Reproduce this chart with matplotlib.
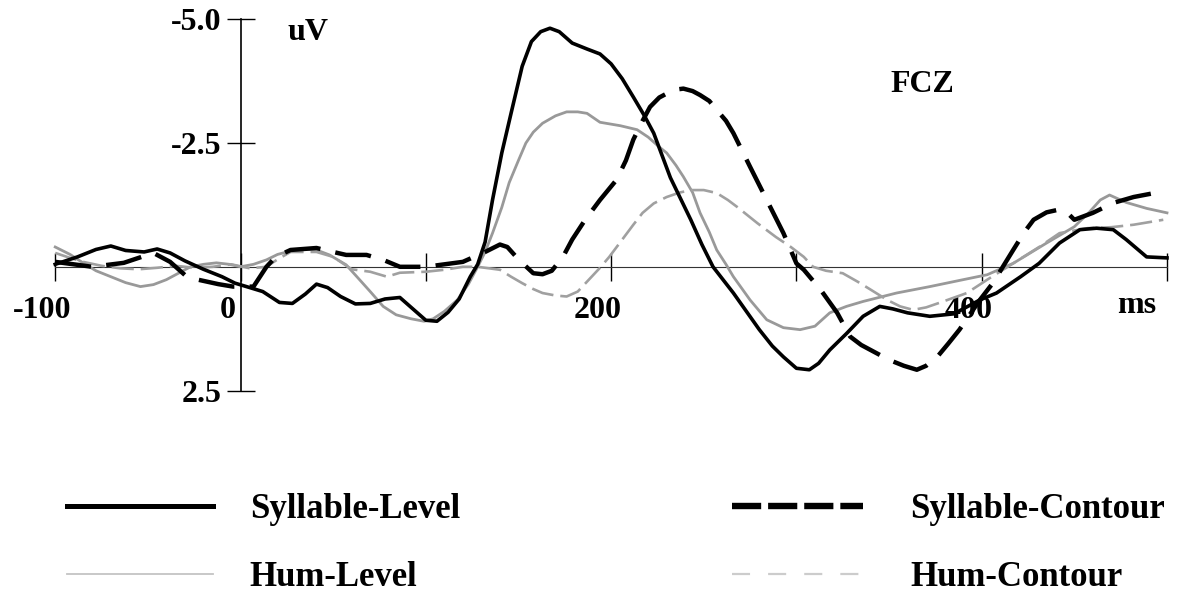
import matplotlib
matplotlib.use("Agg")
import matplotlib.pyplot as plt
from matplotlib.lines import Line2D
from matplotlib.transforms import ScaledTranslation

plt.rcParams["font.family"] = ["Liberation Serif", "DejaVu Serif"]
plt.rcParams["font.weight"] = "bold"
plt.rcParams["lines.scale_dashes"] = False

# ERP waveforms at FCZ (time in ms, amplitude in uV; negative plotted up)
syl_level_t = [-100, -88, -78, -70, -62, -52, -45, -38, -30, -20, -10, -3, 5, 12, 21, 28, 35, 41,
               47, 54, 62, 70, 78, 86, 93, 100, 106, 112, 118, 124, 128, 132, 136, 141, 146, 152,
               157, 162, 167, 172, 179, 187, 194, 200, 206, 212, 218, 223, 232, 243, 249, 255, 266,
               273, 280, 287, 293, 300, 307, 312, 318, 327, 336, 345, 352, 360, 372, 385, 399, 408,
               421, 431, 442, 453, 462, 471, 478, 489, 500]
syl_level_v = [-0.05, -0.2, -0.35, -0.42, -0.33, -0.3, -0.36, -0.28, -0.12, 0.05, 0.2, 0.33, 0.42,
               0.5, 0.72, 0.74, 0.55, 0.35, 0.42, 0.6, 0.75, 0.74, 0.65, 0.62, 0.85, 1.08, 1.1, 0.92,
               0.65, 0.2, -0.05, -0.5, -1.35, -2.3, -3.1, -4.05, -4.55, -4.75, -4.82, -4.75, -4.52,
               -4.4, -4.3, -4.1, -3.8, -3.43, -3.05, -2.7, -1.8, -0.95, -0.45, 0.0, 0.53, 0.9, 1.27,
               1.6, 1.82, 2.05, 2.08, 1.95, 1.68, 1.35, 1.0, 0.8, 0.85, 0.93, 1.0, 0.95, 0.67, 0.53,
               0.2, -0.07, -0.48, -0.75, -0.78, -0.75, -0.55, -0.2, -0.18]

syl_contour_t = [-100, -90, -80, -63, -47, -38, -29, -23, -12, -4, 7, 14, 19, 27, 41, 50, 57, 68,
                 77, 86, 100, 120, 132, 140, 144, 150, 158, 163, 168, 174, 179, 186, 194, 203, 208,
                 212, 217, 221, 226, 230, 235, 239, 244, 248, 253, 257, 262, 266, 275, 284, 293,
                 300, 304, 313, 322, 329, 335, 340, 350, 358, 365, 370, 376, 382, 388, 399, 406,
                 417, 423, 428, 435, 441, 446, 450, 460, 471, 482, 496]
syl_contour_v = [-0.1, -0.05, 0.0, -0.08, -0.28, -0.1, 0.2, 0.26, 0.35, 0.4, 0.4, 0.0, -0.2, -0.34,
                 -0.38, -0.3, -0.24, -0.24, -0.14, 0.0, 0.0, -0.1, -0.3, -0.45, -0.4, -0.15, 0.13,
                 0.15, 0.08, -0.2, -0.55, -0.95, -1.35, -1.76, -2.15, -2.57, -2.95, -3.23, -3.42,
                 -3.5, -3.58, -3.6, -3.55, -3.47, -3.35, -3.17, -2.95, -2.7, -2.02, -1.35, -0.68,
                 -0.07, 0.06, 0.46, 0.93, 1.41, 1.58, 1.68, 1.88, 2.0, 2.08, 2.0, 1.82, 1.55, 1.27,
                 0.67, 0.33, -0.34, -0.7, -0.95, -1.1, -1.15, -1.1, -0.95, -1.09, -1.29, -1.41, -1.51]

hum_level_t = [-100, -92, -85, -78, -70, -62, -54, -47, -40, -33, -27, -20, -13, -6, 0, 7, 14, 20,
               27, 34, 41, 48, 57, 64, 70, 77, 84, 92, 99, 104, 110, 117, 123, 128, 132, 136, 141,
               145, 150, 154, 158, 163, 170, 176, 182, 187, 194, 205, 214, 220, 226, 230, 235, 239,
               244, 248, 253, 257, 262, 266, 275, 284, 293, 302, 310, 318, 327, 336, 354, 372, 390,
               403, 417, 435, 450, 458, 464, 469, 478, 489, 500]
hum_level_v = [-0.4, -0.25, -0.08, 0.08, 0.2, 0.32, 0.4, 0.36, 0.26, 0.12, 0.0, -0.05, -0.08, -0.05,
               0.0, -0.05, -0.14, -0.25, -0.32, -0.36, -0.34, -0.24, -0.04, 0.25, 0.5, 0.8, 0.97,
               1.05, 1.1, 1.05, 0.9, 0.67, 0.35, 0.0, -0.3, -0.68, -1.2, -1.7, -2.15, -2.5, -2.72,
               -2.9, -3.05, -3.13, -3.13, -3.1, -2.92, -2.85, -2.77, -2.62, -2.42, -2.3, -2.05, -1.82,
               -1.5, -1.09, -0.7, -0.34, -0.05, 0.2, 0.67, 1.07, 1.23, 1.27, 1.2, 0.93, 0.8, 0.7,
               0.53, 0.4, 0.26, 0.16, -0.07, -0.48, -0.81, -1.1, -1.35, -1.45, -1.3, -1.18, -1.09]

hum_contour_t = [-100, -92, -85, -75, -65, -55, -45, -35, -25, -15, -5, 5, 14, 20, 27, 41, 50, 60,
                 70, 79, 86, 100, 110, 120, 128, 140, 146, 152, 158, 163, 170, 176, 182, 188, 194,
                 199, 207, 212, 217, 223, 230, 237, 243, 250, 257, 263, 268, 279, 289, 297, 304,
                 309, 316, 325, 333, 340, 349, 356, 363, 370, 377, 392, 403, 417, 431, 442, 457,
                 470, 482, 490, 498]
hum_contour_v = [-0.28, -0.18, -0.1, -0.02, 0.03, 0.05, 0.02, -0.02, 0.02, 0.0, -0.05, 0.03, 0.0,
                 -0.15, -0.3, -0.3, -0.2, 0.05, 0.1, 0.2, 0.12, 0.1, 0.06, 0.0, 0.0, 0.06, 0.2,
                 0.33, 0.45, 0.53, 0.58, 0.6, 0.5, 0.26, 0.02, -0.2, -0.6, -0.85, -1.09, -1.28,
                 -1.41, -1.5, -1.55, -1.55, -1.49, -1.35, -1.21, -0.88, -0.6, -0.4, -0.2, 0.0, 0.08,
                 0.13, 0.3, 0.46, 0.67, 0.8, 0.87, 0.82, 0.73, 0.53, 0.26, -0.07, -0.4, -0.68,
                 -0.78, -0.8, -0.85, -0.9, -0.95]

x_ticks = [-100, 0, 100, 200, 300, 400, 500]
x_tick_labels = ["-100", "0", "", "200", "", "400", ""]
y_ticks = [-5.0, -2.5, 2.5]
y_tick_labels = ["-5.0", "-2.5", "2.5"]
series_names = ["Syllable-Level", "Hum-Level", "Syllable-Contour", "Hum-Contour"]

fig = plt.figure(figsize=(11.82, 5.93), dpi=100)
ax = fig.add_axes([0, 0, 1, 1])
ax.set_xlim(-129.8, 508.1)
ax.set_ylim(6.59, -5.39)
ax.patch.set_alpha(0)

# Waveforms
ax.plot(hum_level_t, hum_level_v, color="#999999", lw=2.0, solid_joinstyle="round", zorder=3)
ax.plot(hum_contour_t, hum_contour_v, color="#a0a0a0", lw=1.9, dashes=(16, 5), zorder=3)
ax.plot(syl_contour_t, syl_contour_v, color="black", lw=3.2, dashes=(26, 11), zorder=4)
ax.plot(syl_level_t, syl_level_v, color="black", lw=2.6, solid_joinstyle="round", zorder=5)

# Axes crossing at the origin
for side in ("top", "right"):
    ax.spines[side].set_visible(False)
ax.spines["left"].set_position(("data", 0))
ax.spines["bottom"].set_position(("data", 0))
ax.spines["left"].set_bounds(-5, 2.5)
ax.spines["bottom"].set_bounds(-100, 500)
ax.spines["left"].set_linewidth(1.2)
ax.spines["bottom"].set_linewidth(0.8)
ax.spines["bottom"].set_color("#333333")

ax.set_xticks(x_ticks)
ax.set_xticklabels(x_tick_labels)
ax.set_yticks(y_ticks)
ax.set_yticklabels(y_tick_labels)
ax.tick_params(axis="x", direction="inout", length=20, width=1.0, pad=11, labelsize=23)
ax.tick_params(axis="y", direction="inout", length=20, width=1.0, pad=4, labelsize=23)
shift = ScaledTranslation(-13 / 100, 0, fig.dpi_scale_trans)
for lab in ax.get_xticklabels():
    lab.set_transform(lab.get_transform() + shift)
    lab.set_fontweight("bold")
for lab in ax.get_yticklabels():
    lab.set_fontweight("bold")

ax.text(25.6, -4.73, "uV", fontsize=23, fontweight="bold", ha="left", va="center")
ax.text(350.5, -3.68, "FCZ", fontsize=23, fontweight="bold", ha="left", va="center")
ax.text(473, 0.93, "ms", fontsize=23, fontweight="bold", ha="left", va="baseline")

# Legend in two columns
h_syl_level = Line2D([], [], color="black", lw=3.6)
h_hum_level = Line2D([], [], color="#c4c4c4", lw=1.3)
h_syl_contour = Line2D([], [], color="black", lw=4.6, dashes=(21, 5))
h_hum_contour = Line2D([], [], color="#cccccc", lw=1.6, dashes=(13, 13))

leg_kw = dict(frameon=False, fontsize=25, borderpad=0, borderaxespad=0,
              labelspacing=1.0, loc="upper left", bbox_transform=fig.transFigure)
leg1 = ax.legend([h_syl_level, h_hum_level], series_names[:2], handlelength=4.2,
                 handletextpad=1.06, bbox_to_anchor=(67 / 1182, 1 - 493 / 593), **leg_kw)
ax.add_artist(leg1)
leg2 = ax.legend([h_syl_contour, h_hum_contour], series_names[2:], handlelength=3.78,
                 handletextpad=1.35, bbox_to_anchor=(732 / 1182, 1 - 493 / 593), **leg_kw)
for leg in (leg1, leg2):
    for t in leg.get_texts():
        t.set_fontweight("bold")

fig.savefig("out.png", dpi=100)
